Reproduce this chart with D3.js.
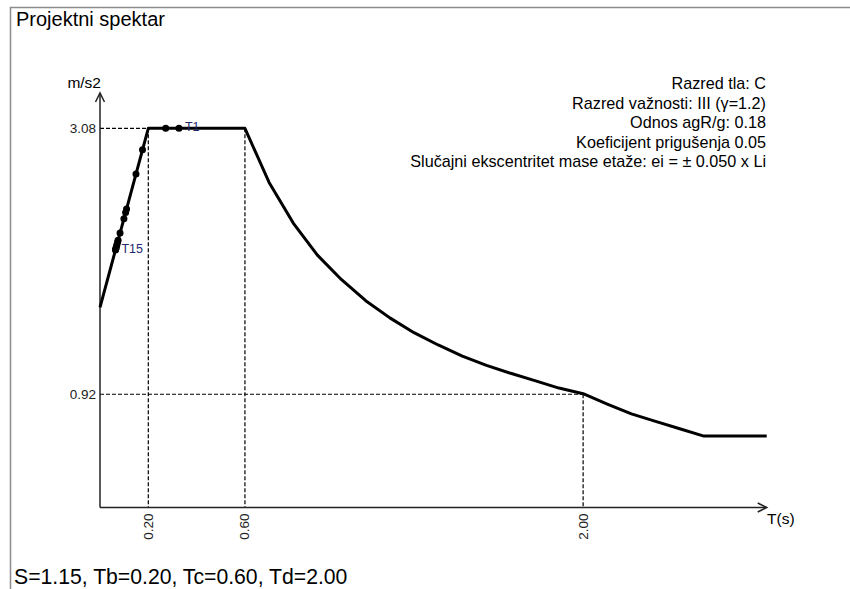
<!DOCTYPE html>
<html>
<head>
<meta charset="utf-8">
<script src="https://cdn.jsdelivr.net/npm/d3@7"></script>
<style>
  html, body { margin: 0; padding: 0; background: #fff; }
  svg { display: block; font-family: "Liberation Sans", Arial, sans-serif; }
</style>
</head>
<body>
<svg id="chart" width="850" height="589"></svg>
<script>
// ---- data ----
const curveT  = [0, 0.2, 0.6, 0.7, 0.8, 0.9, 1.0, 1.1, 1.2, 1.3, 1.4, 1.5, 1.6, 1.7, 1.8, 1.9, 2.0, 2.1, 2.2, 2.3, 2.4, 2.5, 2.76];
const curveSa = [1.625, 3.08, 3.08, 2.64, 2.31, 2.05, 1.85, 1.68, 1.54, 1.42, 1.32, 1.23, 1.155, 1.09, 1.03, 0.97, 0.924, 0.84, 0.76, 0.70, 0.64, 0.58, 0.58];

const modeT  = [0.327, 0.272, 0.176, 0.149, 0.110, 0.106, 0.099, 0.083, 0.075, 0.073, 0.070, 0.068, 0.066, 0.065, 0.064];
const modeSa = [3.08, 3.08, 2.905, 2.709, 2.425, 2.396, 2.345, 2.229, 2.171, 2.156, 2.134, 2.120, 2.105, 2.098, 2.091];
const modeLabels = ["T1", "", "", "", "", "", "", "", "", "", "", "", "", "", "T15"];

const yTickValues = [3.08, 0.92];
const yTickLabels = ["3.08", "0.92"];
const xTickValues = [0.20, 0.60, 2.00];
const xTickLabels = ["0.20", "0.60", "2.00"];

// dashed guide lines: [T, Sa]
const guideT  = [0.20, 0.60, 2.00];
const guideSa = [3.08, 3.08, 0.92];
const hGuideIdx = [0, 2];

const legendLines = [
  "Razred tla: C",
  "Razred važnosti: III (\u03b3=1.2)",
  "Odnos agR/g: 0.18",
  "Koeficijent prigušenja 0.05",
  "Slučajni ekscentritet mase etaže: ei = \u00b1 0.050 x Li"
];
const titleText = "Projektni spektar";
const footerText = "S=1.15, Tb=0.20, Tc=0.60, Td=2.00";
const yAxisTitle = "m/s2";
const xAxisTitle = "T(s)";

// ---- drawing ----
const svg = d3.select("#chart");
const x = d3.scaleLinear().domain([0, 2.76]).range([100, 766.7]);
const y = d3.scaleLinear().domain([0, 3.08]).range([507.5, 128.3]);

// frame
svg.append("path")
  .attr("d", "M10.5,589 L10.5,7.5 L850,7.5")
  .attr("fill", "none").attr("stroke", "#8c8c8c").attr("stroke-width", 1.5);

svg.append("text").attr("x", 16).attr("y", 26)
  .attr("font-size", 20).attr("fill", "#000").text(titleText);

svg.append("text").attr("x", 14).attr("y", 584)
  .attr("font-size", 21.2).attr("fill", "#000").text(footerText);

// dashed guides
const dash = "4,2";
hGuideIdx.forEach(i => {
  svg.append("line")
    .attr("x1", x(0)).attr("x2", x(guideT[i]))
    .attr("y1", y(guideSa[i])).attr("y2", y(guideSa[i]))
    .attr("stroke", "#000").attr("stroke-width", 1.2).attr("stroke-dasharray", dash);
});
guideT.forEach((t, i) => {
  svg.append("line")
    .attr("x1", x(t)).attr("x2", x(t))
    .attr("y1", y(guideSa[i])).attr("y2", y(0))
    .attr("stroke", "#000").attr("stroke-width", 1.2).attr("stroke-dasharray", dash);
});

// axes
const axisColor = "#222";
svg.append("line").attr("x1", x(0)).attr("x2", x(0)).attr("y1", y(0)).attr("y2", 93)
  .attr("stroke", axisColor).attr("stroke-width", 1.5);
svg.append("path").attr("d", `M${x(0)-4.5},102 L${x(0)},93 L${x(0)+4.5},102`)
  .attr("fill", "none").attr("stroke", axisColor).attr("stroke-width", 1.5);
svg.append("line").attr("x1", x(0)).attr("x2", x(2.76)).attr("y1", y(0)).attr("y2", y(0))
  .attr("stroke", axisColor).attr("stroke-width", 1.5);
svg.append("path").attr("d", `M${x(2.76)-9},${y(0)-4.5} L${x(2.76)},${y(0)} L${x(2.76)-9},${y(0)+4.5}`)
  .attr("fill", "none").attr("stroke", axisColor).attr("stroke-width", 1.5);

svg.append("text").attr("x", 101).attr("y", 88).attr("text-anchor", "end")
  .attr("font-size", 15.5).attr("fill", "#000").text(yAxisTitle);
svg.append("text").attr("x", 767).attr("y", 524)
  .attr("font-size", 15.5).attr("fill", "#000").text(xAxisTitle);

// tick labels
yTickValues.forEach((v, i) => {
  svg.append("text").attr("x", 96).attr("y", y(v) + 4.5).attr("text-anchor", "end")
    .attr("font-size", 13.5).attr("fill", "#222").text(yTickLabels[i]);
});
xTickValues.forEach((v, i) => {
  svg.append("text")
    .attr("transform", `translate(${x(v) + 4.5},${y(0) + 6}) rotate(-90)`)
    .attr("text-anchor", "end")
    .attr("font-size", 13.5).attr("fill", "#222").text(xTickLabels[i]);
});

// curve
const pts = curveT.map((t, i) => [t, curveSa[i]]);
svg.append("path").datum(pts)
  .attr("d", d3.line().x(d => x(d[0])).y(d => y(d[1])))
  .attr("fill", "none").attr("stroke", "#000").attr("stroke-width", 3)
  .attr("stroke-linejoin", "round");

// modes
const modes = modeT.map((t, i) => ({ t, sa: modeSa[i], label: modeLabels[i] }));
svg.selectAll("circle.mode").data(modes).enter().append("circle")
  .attr("class", "mode")
  .attr("cx", d => x(d.t)).attr("cy", d => y(d.sa)).attr("r", 3.5).attr("fill", "#000");
svg.selectAll("text.mlabel").data(modes.filter(d => d.label)).enter().append("text")
  .attr("class", "mlabel")
  .attr("x", d => x(d.t) + 6).attr("y", d => y(d.sa) + 3)
  .attr("font-size", 12.5).attr("fill", "#1f2a6b").text(d => d.label);

// legend
legendLines.forEach((s, i) => {
  svg.append("text").attr("x", 766).attr("y", 89 + i * 19.5).attr("text-anchor", "end")
    .attr("font-size", 16.2).attr("fill", "#000").text(s);
});
</script>
</body>
</html>
